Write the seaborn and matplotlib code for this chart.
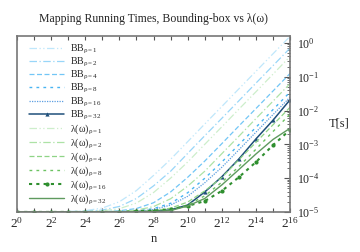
import numpy as np
import pandas as pd
import matplotlib
matplotlib.use('Agg')
import matplotlib.pyplot as plt
import seaborn as sns

sns.set_style('ticks')
plt.rcParams['font.family'] = ['Liberation Serif', 'DejaVu Serif']
plt.rcParams['mathtext.fontset'] = 'custom'
plt.rcParams['mathtext.rm'] = 'Liberation Serif'
plt.rcParams['mathtext.it'] = 'Liberation Serif:italic'

# problem size n = 2^0 .. 2^16
n = [2 ** k for k in range(17)]

# running times T[s]
bb_1 = [1.0e-5, 1.0e-5, 1.0e-5, 1.03e-5, 1.09e-5, 1.3e-5, 2.0e-5, 4.3e-5, 1.2e-4,
        3.6e-4, 1.2e-3, 4.0e-3, 1.32e-2, 4.4e-2, 0.145, 0.48, 1.58]
bb_2 = [1.0e-5, 1.0e-5, 1.0e-5, 1.01e-5, 1.04e-5, 1.14e-5, 1.45e-5, 2.5e-5, 5.9e-5,
        1.6e-4, 5.4e-4, 1.8e-3, 5.9e-3, 1.95e-2, 6.5e-2, 0.214, 0.708]
bb_4 = [1.0e-5, 1.0e-5, 1.0e-5, 1.0e-5, 1.0e-5, 1.02e-5, 1.08e-5, 1.26e-5, 1.87e-5,
        3.9e-5, 1.06e-4, 3.2e-4, 1.05e-3, 3.5e-3, 1.15e-2, 3.8e-2, 0.126]
bb_8 = [1.0e-5, 1.0e-5, 1.0e-5, 1.0e-5, 1.0e-5, 1.0e-5, 1.02e-5, 1.07e-5, 1.25e-5,
        1.8e-5, 3.7e-5, 9.9e-5, 3.0e-4, 9.8e-4, 3.2e-3, 1.07e-2, 3.55e-2]
bb_16 = [1.0e-5, 1.0e-5, 1.0e-5, 1.0e-5, 1.0e-5, 1.0e-5, 1.02e-5, 1.05e-5, 1.17e-5,
         1.6e-5, 2.9e-5, 7.3e-5, 2.1e-4, 6.9e-4, 2.3e-3, 7.6e-3, 2.5e-2]
bb_32 = [1.0e-5, 1.0e-5, 1.0e-5, 1.0e-5, 1.0e-5, 1.0e-5, 1.0e-5, 1.02e-5, 1.05e-5,
         1.15e-5, 1.6e-5, 3.9e-5, 1.1e-4, 3.7e-4, 1.45e-3, 5.2e-3, 2.1e-2]

lam_1 = [1.0e-5, 1.0e-5, 1.0e-5, 1.0e-5, 1.02e-5, 1.08e-5, 1.25e-5, 1.83e-5, 3.75e-5,
         1.0e-4, 3.0e-4, 1.0e-3, 3.3e-3, 1.1e-2, 3.6e-2, 0.12, 0.398]
lam_2 = [1.0e-5, 1.0e-5, 1.0e-5, 1.0e-5, 1.0e-5, 1.01e-5, 1.04e-5, 1.13e-5, 1.44e-5,
         2.45e-5, 5.8e-5, 1.6e-4, 5.3e-4, 1.74e-3, 5.8e-3, 1.9e-2, 6.3e-2]
lam_4 = [1.0e-5, 1.0e-5, 1.0e-5, 1.0e-5, 1.0e-5, 1.0e-5, 1.0e-5, 1.03e-5, 1.09e-5,
         1.29e-5, 1.96e-5, 4.2e-5, 1.05e-4, 3.5e-4, 1.15e-3, 3.8e-3, 1.26e-2]
lam_8 = [1.0e-5, 1.0e-5, 1.0e-5, 1.0e-5, 1.0e-5, 1.0e-5, 1.0e-5, 1.0e-5, 1.05e-5,
         1.18e-5, 1.6e-5, 3.0e-5, 7.6e-5, 2.2e-4, 7.2e-4, 2.4e-3, 7.9e-3]
lam_16 = [1.0e-5, 1.0e-5, 1.0e-5, 1.0e-5, 1.0e-5, 1.0e-5, 1.0e-5, 1.05e-5, 1.1e-5,
          1.2e-5, 1.5e-5, 2.1e-5, 4.2e-5, 1.07e-4, 3.0e-4, 9.5e-4, 2.7e-3]
lam_32 = [1.0e-5, 1.0e-5, 1.0e-5, 1.0e-5, 1.0e-5, 1.0e-5, 1.0e-5, 1.0e-5, 1.02e-5,
          1.1e-5, 1.5e-5, 2.5e-5, 6.3e-5, 1.8e-4, 5.2e-4, 1.4e-3, 3.0e-3]

series = [
    ('BB$_{\\mathrm{ρ=1}}$', bb_1, '#bfe7fb', (0, (6, 2, 1, 2, 1, 2)), None, 0.9),
    ('BB$_{\\mathrm{ρ=2}}$', bb_2, '#98d6f8', (0, (6, 2, 1, 2)), None, 0.9),
    ('BB$_{\\mathrm{ρ=4}}$', bb_4, '#72c6f6', (0, (4, 2)), None, 0.9),
    ('BB$_{\\mathrm{ρ=8}}$', bb_8, '#48b4f2', (0, (2, 3)), None, 1.0),
    ('BB$_{\\mathrm{ρ=16}}$', bb_16, '#5c9ee0', (0, (1, 1)), None, 0.9),
    ('BB$_{\\mathrm{ρ=32}}$', bb_32, '#1f4f7a', '-', '^', 1.1),
    ('λ(ω)$_{\\mathrm{ρ=1}}$', lam_1, '#cdeecb', (0, (6, 2, 1, 2, 1, 2)), None, 0.9),
    ('λ(ω)$_{\\mathrm{ρ=2}}$', lam_2, '#ade2a6', (0, (6, 2, 1, 2)), None, 0.9),
    ('λ(ω)$_{\\mathrm{ρ=4}}$', lam_4, '#8fd486', (0, (4, 2)), None, 0.9),
    ('λ(ω)$_{\\mathrm{ρ=8}}$', lam_8, '#6cc262', (0, (2, 3)), None, 1.0),
    ('λ(ω)$_{\\mathrm{ρ=16}}$', lam_16, '#2f8f2f', (0, (1.5, 2)), 'o', 1.5),
    ('λ(ω)$_{\\mathrm{ρ=32}}$', lam_32, '#5f9a5f', '-', None, 1.0),
]

fig = plt.figure(figsize=(3.6, 2.52), dpi=100)
ax = fig.add_axes([0.047, 0.159, 0.759, 0.698])

for label, vals, color, ls, mk, lw in series:
    sns.lineplot(x=n, y=vals, ax=ax, label=label, color=color, linestyle=ls,
                 linewidth=lw, marker=mk, markersize=3 if mk else 0,
                 markeredgewidth=0)

ax.set_xscale('log', base=2)
ax.set_yscale('log')
ax.set_xlim(1, 2 ** 16)
ax.set_ylim(1e-5, 1.6)

ax.set_xticks(n)
ax.set_xticklabels([r'$2^{%d}$' % k if k % 2 == 0 else '' for k in range(17)],
                   fontsize=9.5)
ax.xaxis.set_minor_locator(matplotlib.ticker.NullLocator())
ax.yaxis.tick_right()
ax.yaxis.set_label_position('right')
ax.tick_params(axis='both', which='both', direction='in', top=True, left=False,
               right=True, color='#555555')
ax.tick_params(axis='y', labelsize=8.5, pad=5)
ax.tick_params(axis='y', which='major', length=4)
ax.tick_params(axis='y', which='minor', length=2)
ax.tick_params(axis='x', length=3, pad=3)
ax.set_yticks([1e-5, 1e-4, 1e-3, 1e-2, 1e-1, 1])
ax.set_yticklabels([r'$10^{-5}$', r'$10^{-4}$', r'$10^{-3}$', r'$10^{-2}$',
                    r'$10^{-1}$', r'$10^{0}$'])

for s in ax.spines.values():
    s.set_color('#777777')
    s.set_linewidth(1.2)

ax.set_title('Mapping Running Times, Bounding-box vs λ(ω)', fontsize=8.5, pad=10)
ax.set_xlabel('n', fontsize=9, labelpad=2)
ax.set_ylabel('T[s]', fontsize=9, rotation=0, labelpad=14, va='center')

ax.legend(loc='upper left', frameon=False, fontsize=7.2, handlelength=3.5,
          labelspacing=0.0, borderaxespad=0.3, handletextpad=0.6,
          bbox_to_anchor=(0.02, 1.0))

fig.savefig('out.png', dpi=100)
